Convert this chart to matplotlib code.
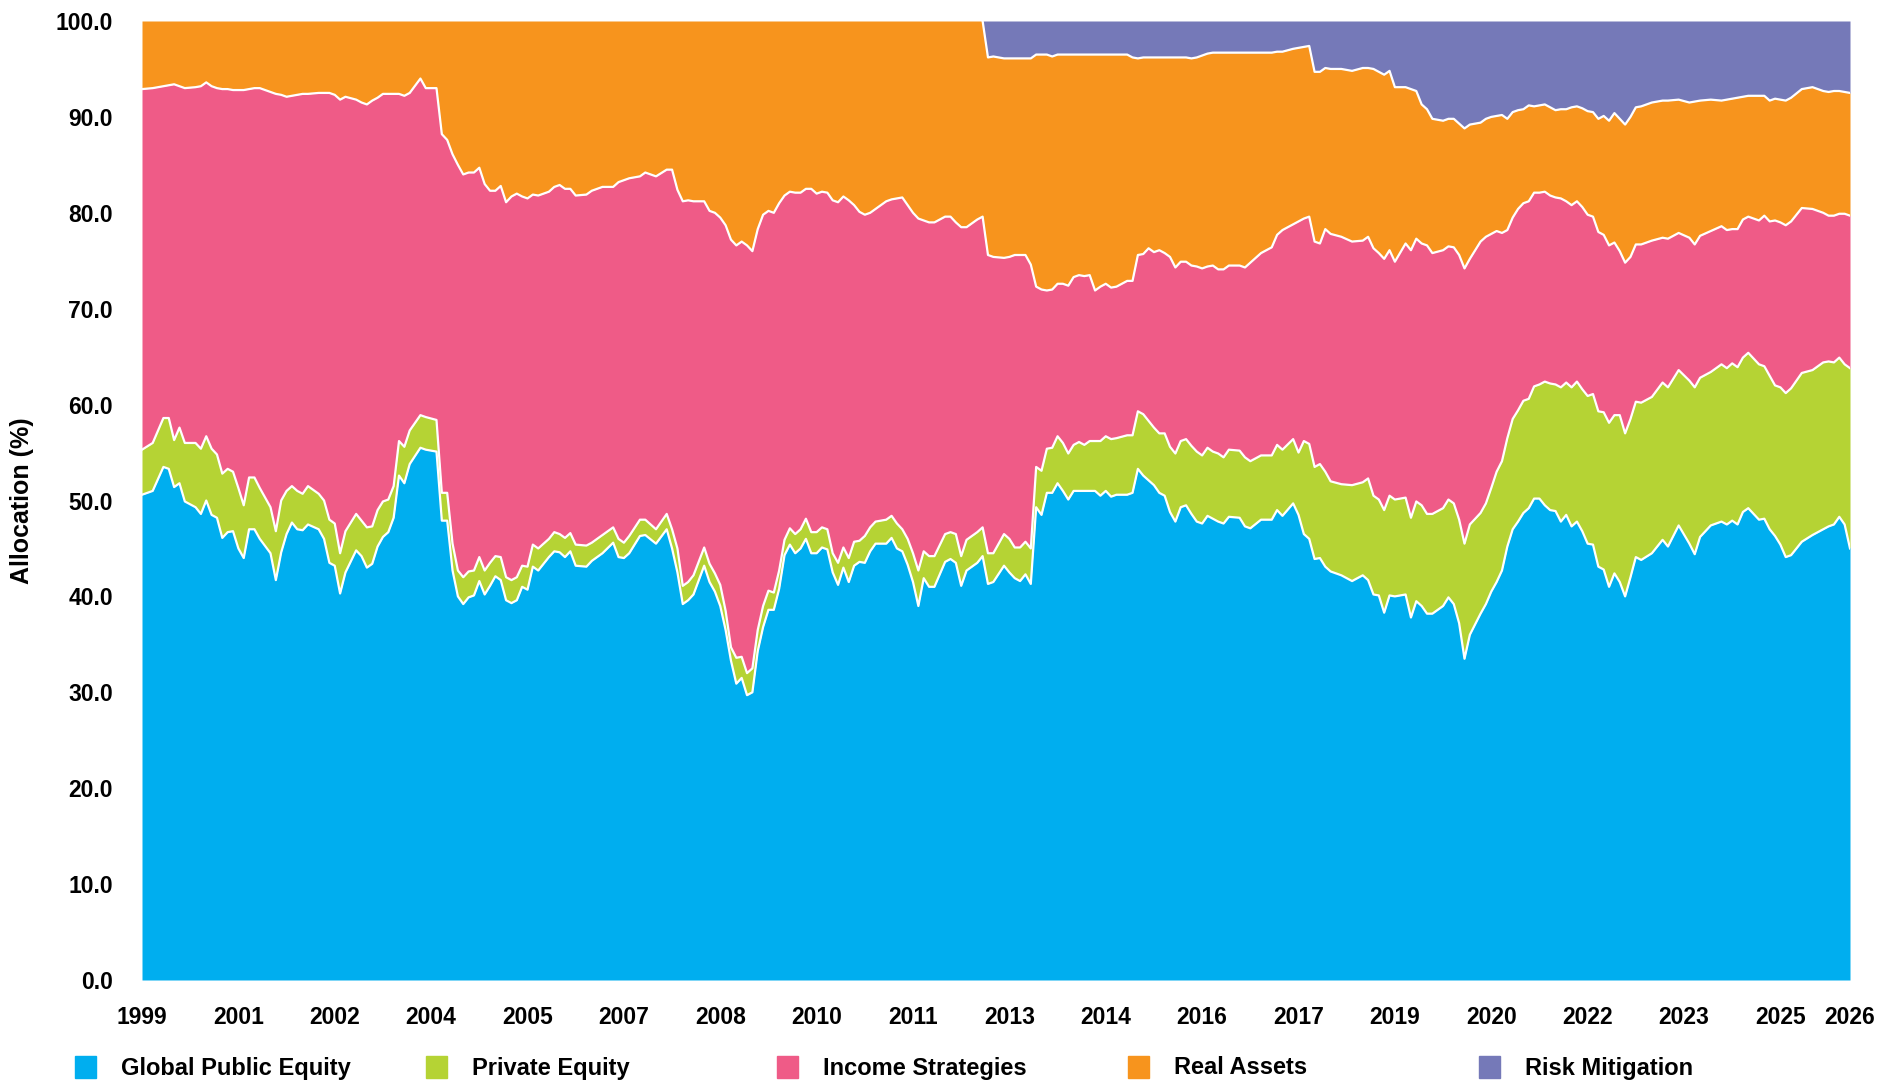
import numpy as np
import pandas as pd
import matplotlib
matplotlib.use('Agg')
import matplotlib.pyplot as plt
from matplotlib.patches import Rectangle

plt.rcParams['font.family'] = ['Liberation Sans', 'DejaVu Sans']
plt.rcParams['font.weight'] = 'bold'

categories = ['Global Public Equity', 'Private Equity', 'Income Strategies',
              'Real Assets', 'Risk Mitigation']
colors = ['#00AEEF', '#B5D334', '#EF5B87', '#F7941D', '#7579B8']

# months since Jul 1999, and the stacked level (%) at the top of each band
months = [0, 2, 4, 5, 6, 7, 8, 10, 11, 12, 13, 14, 15, 16, 17, 18, 19, 20, 21, 22,
          24, 25, 26, 27, 28, 29, 30, 31, 33, 34, 35, 36, 37, 38, 40, 41, 42, 43, 44, 45,
          46, 47, 48, 49, 50, 52, 53, 55, 56, 57, 58, 59, 60, 61, 62, 63, 64, 65, 66, 67,
          68, 69, 70, 71, 72, 73, 74, 76, 77, 78, 79, 80, 81, 83, 84, 86, 88, 89, 90, 91,
          93, 94, 96, 98, 99, 100, 101, 102, 103, 105, 106, 107, 108, 109, 110, 111, 112, 113, 114, 115,
          116, 117, 118, 119, 120, 121, 122, 123, 124, 125, 126, 127, 128, 129, 130, 131, 132, 133, 134, 135,
          136, 137, 139, 140, 141, 142, 143, 144, 145, 146, 147, 148, 150, 151, 152, 153, 154, 156, 157, 158,
          159, 161, 162, 163, 164, 165, 166, 167, 168, 169, 170, 171, 172, 173, 174, 175, 176, 177, 178, 179,
          180, 181, 182, 184, 185, 186, 187, 188, 189, 190, 191, 192, 193, 194, 195, 196, 197, 198, 199, 200,
          201, 202, 203, 205, 206, 207, 209, 211, 212, 213, 215, 216, 217, 218, 219, 220, 221, 222, 224, 226,
          228, 229, 230, 231, 232, 233, 234, 236, 237, 238, 239, 240, 241, 243, 244, 245, 246, 247, 248, 250,
          251, 252, 253, 254, 255, 256, 257, 258, 259, 260, 261, 262, 263, 264, 265, 266, 267, 268, 269, 270,
          271, 272, 273, 274, 275, 276, 277, 278, 279, 280, 282, 284, 285, 287, 289, 290, 291, 293, 295, 296,
          297, 298, 299, 300, 302, 303, 304, 305, 306, 307, 308, 310, 312, 314, 315, 316, 317, 318, 319]

top_gpe = [50.6, 51.0, 53.5, 53.3, 51.4, 51.8, 49.9, 49.3, 48.6, 50.0, 48.5, 48.2, 46.1, 46.7, 46.8, 45.0, 44.0, 47.0, 47.0, 46.0,
           44.5, 41.7, 44.6, 46.5, 47.7, 47.0, 46.9, 47.5, 47.0, 46.0, 43.5, 43.2, 40.3, 42.5, 44.8, 44.2, 43.0, 43.4, 45.2, 46.2,
           46.7, 48.2, 52.6, 51.8, 53.8, 55.5, 55.3, 55.1, 47.9, 47.9, 42.7, 40.0, 39.2, 39.9, 40.1, 41.6, 40.2, 41.1, 42.1, 41.7,
           39.6, 39.3, 39.6, 41.0, 40.7, 43.1, 42.7, 44.1, 44.7, 44.6, 44.1, 44.7, 43.2, 43.1, 43.7, 44.5, 45.6, 44.1, 44.0, 44.5,
           46.3, 46.4, 45.5, 47.0, 45.0, 42.5, 39.2, 39.6, 40.2, 43.2, 41.5, 40.5, 39.0, 36.5, 33.3, 30.9, 31.5, 29.7, 30.0, 34.3,
           36.8, 38.6, 38.6, 40.8, 44.3, 45.4, 44.5, 45.0, 46.0, 44.5, 44.5, 45.1, 44.9, 42.5, 41.2, 43.0, 41.5, 43.2, 43.6, 43.5,
           44.7, 45.5, 45.5, 46.1, 45.0, 44.7, 43.3, 41.5, 39.0, 41.9, 41.0, 41.0, 43.6, 43.9, 43.5, 41.1, 42.7, 43.5, 44.2, 41.3,
           41.5, 43.2, 42.5, 41.9, 41.6, 42.3, 41.3, 49.3, 48.5, 50.8, 50.8, 51.8, 51.0, 50.1, 51.0, 51.0, 51.0, 51.0, 51.0, 50.5,
           51.0, 50.4, 50.6, 50.6, 50.8, 53.3, 52.6, 52.1, 51.6, 50.8, 50.5, 48.8, 47.8, 49.3, 49.5, 48.6, 47.8, 47.6, 48.4, 48.1,
           47.8, 47.6, 48.3, 48.2, 47.3, 47.1, 48.0, 48.0, 49.0, 48.4, 49.7, 48.5, 46.5, 46.0, 43.9, 44.0, 43.1, 42.6, 42.2, 41.6,
           42.2, 41.7, 40.2, 40.1, 38.3, 40.1, 40.0, 40.2, 37.8, 39.5, 39.0, 38.2, 38.2, 39.0, 39.9, 39.2, 37.2, 33.5, 36.0, 38.2,
           39.2, 40.5, 41.5, 42.7, 45.2, 47.0, 47.8, 48.7, 49.2, 50.2, 50.2, 49.5, 49.0, 48.9, 47.8, 48.5, 47.3, 47.8, 46.8, 45.5,
           45.4, 43.1, 42.8, 41.0, 42.4, 41.5, 40.0, 42.0, 44.1, 43.8, 44.5, 45.9, 45.2, 47.4, 45.5, 44.4, 46.2, 47.4, 47.8, 47.5,
           47.9, 47.5, 48.8, 49.2, 48.0, 48.1, 47.0, 46.3, 45.4, 44.1, 44.3, 45.7, 46.4, 47.0, 47.3, 47.5, 48.3, 47.5, 45.0]

top_pe = [55.3, 56.0, 58.6, 58.6, 56.3, 57.6, 56.0, 56.0, 55.4, 56.7, 55.4, 54.8, 52.8, 53.3, 53.0, 51.3, 49.5, 52.4, 52.4, 51.3,
          49.3, 46.8, 50.0, 51.0, 51.5, 51.0, 50.7, 51.5, 50.7, 50.0, 48.0, 47.6, 44.5, 46.8, 48.6, 47.9, 47.2, 47.3, 49.0, 49.9,
          50.1, 51.5, 56.2, 55.6, 57.3, 58.9, 58.7, 58.4, 50.8, 50.8, 45.5, 42.7, 42.0, 42.6, 42.7, 44.1, 42.7, 43.5, 44.2, 44.1,
          42.0, 41.7, 42.0, 43.2, 43.1, 45.4, 45.0, 46.0, 46.7, 46.5, 46.1, 46.6, 45.4, 45.3, 45.6, 46.4, 47.2, 46.0, 45.6, 46.3,
          48.0, 48.0, 47.0, 48.6, 47.0, 45.0, 41.1, 41.5, 42.2, 45.1, 43.4, 42.4, 41.2, 38.5, 34.7, 33.6, 33.7, 32.0, 32.5, 36.5,
          39.0, 40.6, 40.4, 42.7, 45.9, 47.1, 46.5, 47.0, 48.1, 46.7, 46.7, 47.2, 47.0, 44.5, 43.5, 45.1, 44.0, 45.7, 45.8, 46.3,
          47.2, 47.8, 48.0, 48.4, 47.6, 47.0, 46.0, 44.5, 42.7, 44.7, 44.2, 44.2, 46.5, 46.7, 46.5, 44.2, 45.9, 46.7, 47.2, 44.5,
          44.5, 46.5, 46.0, 45.1, 45.1, 45.7, 45.0, 53.5, 53.1, 55.4, 55.5, 56.7, 56.0, 54.9, 55.8, 56.1, 55.8, 56.2, 56.2, 56.2,
          56.7, 56.4, 56.5, 56.8, 56.8, 59.3, 59.0, 58.3, 57.6, 57.0, 57.0, 55.6, 54.9, 56.2, 56.4, 55.7, 55.1, 54.7, 55.5, 55.1,
          54.9, 54.5, 55.3, 55.2, 54.5, 54.1, 54.7, 54.7, 55.8, 55.3, 56.4, 55.0, 56.2, 55.9, 53.5, 53.8, 53.0, 52.0, 51.7, 51.6,
          51.9, 52.3, 50.5, 50.1, 49.0, 50.5, 50.1, 50.3, 48.2, 49.9, 49.5, 48.6, 48.6, 49.2, 50.1, 49.7, 48.0, 45.5, 47.5, 48.7,
          49.7, 51.3, 53.0, 54.1, 56.5, 58.5, 59.4, 60.4, 60.6, 61.9, 62.1, 62.4, 62.2, 62.1, 61.8, 62.3, 61.8, 62.4, 61.6, 60.9,
          61.1, 59.3, 59.2, 58.1, 58.9, 58.9, 57.0, 58.5, 60.3, 60.2, 60.8, 62.3, 61.8, 63.6, 62.5, 61.8, 62.8, 63.4, 64.2, 63.8,
          64.3, 63.9, 64.9, 65.4, 64.2, 64.0, 63.0, 62.0, 61.8, 61.2, 61.7, 63.3, 63.6, 64.4, 64.5, 64.4, 64.9, 64.2, 63.8]

top_income = [92.9, 93.0, 93.2, 93.3, 93.4, 93.2, 93.0, 93.1, 93.2, 93.6, 93.2, 93.0, 92.9, 92.9, 92.8, 92.8, 92.8, 92.9, 93.0, 93.0,
              92.6, 92.4, 92.3, 92.1, 92.2, 92.3, 92.4, 92.4, 92.5, 92.5, 92.5, 92.3, 91.8, 92.1, 91.8, 91.5, 91.3, 91.7, 92.0, 92.4,
              92.4, 92.4, 92.4, 92.2, 92.5, 94.0, 93.0, 93.0, 88.2, 87.6, 86.1, 85.0, 84.0, 84.2, 84.2, 84.7, 83.0, 82.3, 82.3, 82.8,
              81.1, 81.7, 82.0, 81.7, 81.5, 81.9, 81.8, 82.2, 82.7, 82.9, 82.5, 82.5, 81.8, 81.9, 82.3, 82.7, 82.7, 83.2, 83.4, 83.6,
              83.8, 84.2, 83.8, 84.5, 84.5, 82.4, 81.2, 81.3, 81.2, 81.2, 80.2, 80.0, 79.5, 78.7, 77.2, 76.6, 77.0, 76.6, 76.0, 78.3,
              79.8, 80.2, 80.0, 81.0, 81.8, 82.2, 82.1, 82.1, 82.5, 82.5, 82.0, 82.2, 82.1, 81.3, 81.1, 81.7, 81.3, 80.8, 80.1, 79.8,
              80.0, 80.4, 81.2, 81.4, 81.5, 81.6, 80.8, 80.0, 79.4, 79.2, 79.0, 79.0, 79.6, 79.6, 79.0, 78.5, 78.5, 79.3, 79.6, 75.6,
              75.4, 75.3, 75.4, 75.6, 75.6, 75.6, 74.6, 72.3, 72.0, 71.9, 72.0, 72.6, 72.6, 72.4, 73.3, 73.5, 73.4, 73.5, 71.9, 72.3,
              72.6, 72.2, 72.3, 72.9, 72.9, 75.6, 75.7, 76.3, 75.9, 76.1, 75.8, 75.4, 74.3, 74.9, 74.9, 74.5, 74.4, 74.2, 74.4, 74.5,
              74.1, 74.1, 74.5, 74.5, 74.3, 74.8, 75.8, 76.4, 77.7, 78.2, 78.8, 79.1, 79.4, 79.6, 77.0, 76.8, 78.3, 77.8, 77.5, 77.0,
              77.1, 77.5, 76.3, 75.8, 75.2, 76.1, 74.9, 76.8, 76.1, 77.3, 76.8, 76.6, 75.8, 76.1, 76.5, 76.4, 75.6, 74.2, 75.2, 77.0,
              77.5, 77.8, 78.1, 77.9, 78.2, 79.5, 80.4, 81.0, 81.2, 82.1, 82.1, 82.2, 81.8, 81.6, 81.5, 81.2, 80.8, 81.2, 80.6, 79.8,
              79.6, 78.0, 77.7, 76.6, 76.9, 76.0, 74.8, 75.4, 76.7, 76.7, 77.1, 77.4, 77.3, 77.9, 77.4, 76.7, 77.6, 78.1, 78.6, 78.2,
              78.3, 78.3, 79.3, 79.6, 79.2, 79.7, 79.1, 79.2, 79.0, 78.7, 79.1, 80.5, 80.4, 80.0, 79.7, 79.7, 79.9, 79.9, 79.7]

top_real = [100.0] * 139 + [
    96.2, 96.3, 96.1, 96.1, 96.1, 96.1, 96.1, 96.1, 96.5, 96.5, 96.5, 96.3, 96.5, 96.5, 96.5, 96.5, 96.5, 96.5, 96.5, 96.5,
    96.5, 96.5, 96.5, 96.5, 96.5, 96.2, 96.1, 96.2, 96.2, 96.2, 96.2, 96.2, 96.2, 96.2, 96.2, 96.2, 96.1, 96.2, 96.4, 96.6, 96.7,
    96.7, 96.7, 96.7, 96.7, 96.7, 96.7, 96.7, 96.7, 96.8, 96.8, 97.1, 97.2, 97.3, 97.4, 94.7, 94.7, 95.1, 95.0, 95.0, 94.8,
    95.1, 95.1, 95.0, 94.7, 94.4, 94.8, 93.1, 93.1, 92.9, 92.7, 91.3, 90.8, 89.8, 89.6, 89.8, 89.8, 89.3, 88.8, 89.2, 89.4,
    89.8, 90.0, 90.1, 90.2, 89.8, 90.5, 90.7, 90.8, 91.2, 91.1, 91.2, 91.3, 91.0, 90.7, 90.8, 90.8, 91.0, 91.1, 90.9, 90.6,
    90.5, 89.8, 90.1, 89.6, 90.4, 89.8, 89.2, 90.0, 91.0, 91.1, 91.5, 91.7, 91.7, 91.8, 91.5, 91.6, 91.7, 91.8, 91.7, 91.8,
    91.9, 92.0, 92.1, 92.2, 92.2, 92.2, 91.7, 91.9, 91.8, 91.7, 92.0, 92.9, 93.1, 92.7, 92.6, 92.7, 92.7, 92.6, 92.5]

start = pd.Timestamp('1999-07-01')
tick_months = list(range(0, 307, 18)) + [months[-1]]
tick_labels = [str((start + pd.DateOffset(months=k)).year) for k in tick_months]

x = np.array(months)
levels = [np.zeros(len(x)), np.array(top_gpe), np.array(top_pe),
          np.array(top_income), np.array(top_real), np.full(len(x), 100.0)]

fig = plt.figure(figsize=(19, 10.82), dpi=100)
ax = fig.add_axes([142 / 1900, 1 - 980 / 1082, 1708 / 1900, 959 / 1082])

for i in range(5):
    ax.fill_between(x, levels[i], levels[i + 1], color=colors[i], linewidth=0)

# thin white lines between the bands
for lv in levels[1:4]:
    ax.plot(x, lv, color='white', lw=1.6)
rm = months.index(157)
ax.plot(x[rm:], levels[4][rm:], color='white', lw=1.6)

ax.set_xlim(months[0], months[-1])
ax.set_ylim(0, 100)
ax.set_xticks(tick_months)
ax.set_xticklabels(tick_labels)
ax.set_yticks(np.arange(0, 101, 10))
ax.set_yticklabels(['%.1f' % v for v in np.arange(0, 101, 10)])
ax.tick_params(axis='both', length=0, labelsize=16.5)
ax.tick_params(axis='y', pad=21)
ax.tick_params(axis='x', pad=19)
for s in ax.spines.values():
    s.set_visible(False)

ax.set_ylabel('Allocation (%)', fontsize=18, fontweight='bold')
ax.yaxis.set_label_coords(-0.063, 0.5)

# legend laid out on a fixed grid
for i, name in enumerate(categories):
    lx = (75 + i * 351) / 1900
    fig.patches.append(Rectangle((lx, 1 - 1078 / 1082), 21 / 1900, 22 / 1082,
                                 transform=fig.transFigure, color=colors[i]))
    fig.text(lx + 46 / 1900, 1 - 1068 / 1082, name, fontsize=17,
             fontweight='bold', va='center', ha='left')

fig.savefig('out.png', dpi=100)
